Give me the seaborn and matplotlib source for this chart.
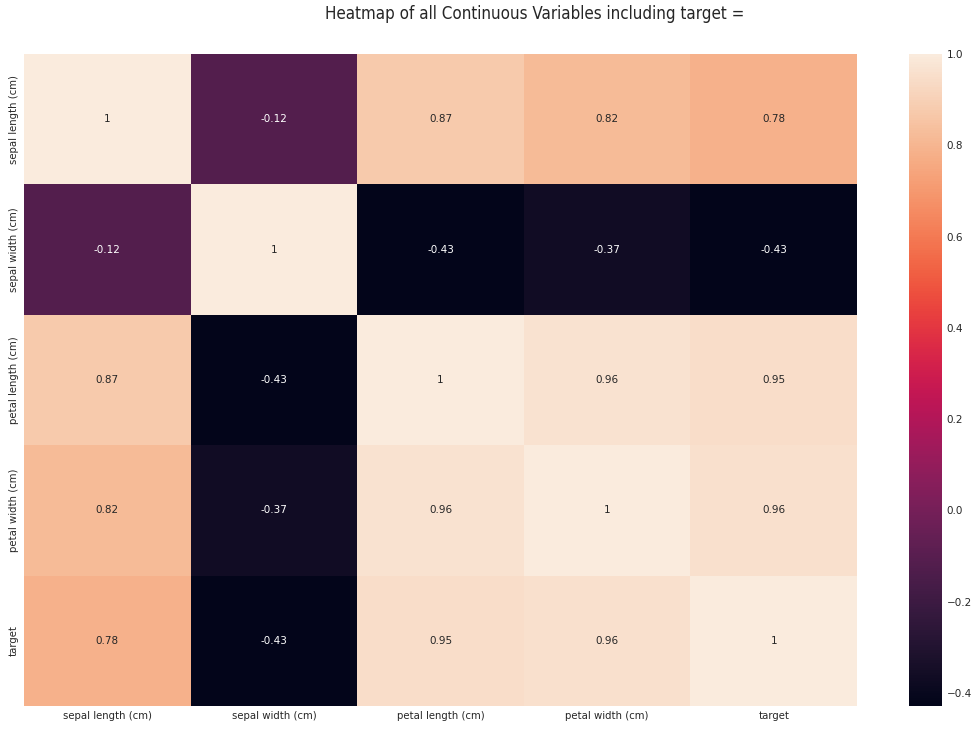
import matplotlib
matplotlib.use("Agg")
import matplotlib.pyplot as plt
import seaborn as sns
import pandas as pd
import numpy as np

labels = ["sepal length (cm)", "sepal width (cm)", "petal length (cm)", "petal width (cm)", "target"]
row_sepal_length = [1.0, -0.1176, 0.8718, 0.8179, 0.7826]
row_sepal_width = [-0.1176, 1.0, -0.4284, -0.3661, -0.4267]
row_petal_length = [0.8718, -0.4284, 1.0, 0.9629, 0.9490]
row_petal_width = [0.8179, -0.3661, 0.9629, 1.0, 0.9565]
row_target = [0.7826, -0.4267, 0.9490, 0.9565, 1.0]

corr = pd.DataFrame([row_sepal_length, row_sepal_width, row_petal_length, row_petal_width, row_target],
                    index=labels, columns=labels)

sns.set_style("white")
W, H = 980, 730
dpi = 100
fig = plt.figure(figsize=(W / dpi, H / dpi), dpi=dpi)
ax = fig.add_axes([24 / W, 1 - 706 / H, (857 - 24) / W, (706 - 54) / H])
cax = fig.add_axes([909 / W, 1 - 706 / H, (942 - 909) / W, (706 - 54) / H])

sns.heatmap(corr, annot=True, ax=ax, cbar_ax=cax, annot_kws={"fontsize": 7.5})
ax.tick_params(axis="both", labelsize=7.3, length=0)
cax.tick_params(labelsize=7.5, length=0)
for s in cax.spines.values():
    s.set_visible(False)

fig.text(537 / W, 1 - 14 / H, "Heatmap of all Continuous Variables including target = ",
         ha="center", va="center", fontsize=12.2, fontstretch="condensed", color="#262626")

fig.savefig("out.png", dpi=dpi)
